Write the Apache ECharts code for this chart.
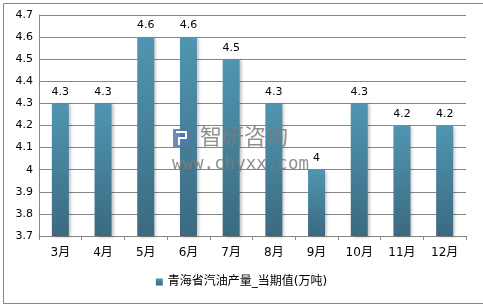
<!DOCTYPE html>
<html><head><meta charset="utf-8">
<script src="https://cdn.jsdelivr.net/npm/echarts@6/dist/echarts.min.js"></script>
<style>html,body{margin:0;padding:0;background:#fff}#c{width:483px;height:304px}</style>
</head><body><div id="c"></div>
<script>
const categories = ['3月','4月','5月','6月','7月','8月','9月','10月','11月','12月'];
const values = [4.3, 4.3, 4.6, 4.6, 4.5, 4.3, 4.0, 4.3, 4.2, 4.2];
const labelTexts = ['4.3','4.3','4.6','4.6','4.5','4.3','4','4.3','4.2','4.2'];
const seriesName = '青海省汽油产量_当期值(万吨)';
const yTicks = [3.7, 3.8, 3.9, 4.0, 4.1, 4.2, 4.3, 4.4, 4.5, 4.6, 4.7];

const chart = echarts.init(document.getElementById('c'), null, {renderer: 'canvas'});
const font = 'DejaVu Sans, Noto Sans CJK SC, sans-serif';
chart.setOption({
  animation: false,
  backgroundColor: '#fff',
  grid: {left: 39, right: 17, top: 15, bottom: 68},
  xAxis: {
    type: 'category', data: categories,
    axisLine: {lineStyle: {color: '#868686', width: 1}},
    axisTick: {show: true, length: 4, lineStyle: {color: '#868686'}},
    axisLabel: {color: '#000', fontSize: 12, fontFamily: font, margin: 11}
  },
  yAxis: {
    type: 'value', min: 3.7, max: 4.7, interval: 0.1,
    axisLine: {show: true, lineStyle: {color: '#868686'}},
    axisTick: {show: false},
    splitLine: {lineStyle: {color: '#868686', width: 1}},
    axisLabel: {color: '#000', fontSize: 11, fontFamily: font, margin: 6,
      formatter: v => { const r = Math.round(v*10)/10; return yTicks.includes(r) ? String(r) : ''; }}
  },
  legend: {
    bottom: 11, left: 'center', itemWidth: 7, itemHeight: 7, itemGap: 4,
    icon: 'rect',
    textStyle: {fontSize: 12, fontFamily: font, color: '#000'},
    data: [seriesName]
  },
  graphic: [
    {type: 'rect', left: 1, top: 1, shape: {width: 480, height: 300},
     style: {fill: 'none', stroke: '#868686', lineWidth: 1}, silent: true, z: 100}
  ],
  series: [{
    name: seriesName, type: 'bar', data: values, barWidth: 17,
    itemStyle: {
      color: new echarts.graphic.LinearGradient(0, 0, 0, 1, [
        {offset: 0, color: '#5095b1'}, {offset: 1, color: '#3b6a80'}
      ]),
      shadowColor: 'rgba(0,0,0,0.25)', shadowBlur: 3, shadowOffsetX: 2, shadowOffsetY: 1
    },
    label: {show: true, position: 'top', distance: 6, color: '#000', fontSize: 11, fontFamily: font,
      formatter: p => labelTexts[p.dataIndex]}
  }]
});
// watermark drawn on top of the bars
const zr = chart.getZr();
const wm = new echarts.graphic.Group({silent: true});
wm.add(new echarts.graphic.Rect({shape: {x: 173, y: 129, width: 17, height: 18}, style: {fill: 'rgba(80,120,170,0.85)'}, z: 1000}));
wm.add(new echarts.graphic.Polyline({shape: {points: [[176,132],[186,132],[186,138],[179,138],[179,145]]}, style: {stroke: '#fff', lineWidth: 2, fill: null}, z: 1001}));
wm.add(new echarts.graphic.Text({x: 200, y: 125, style: {text: '智研咨询', font: '22px Noto Sans CJK SC', fill: 'rgba(125,125,125,0.85)'}, z: 1000}));
wm.add(new echarts.graphic.Text({x: 172, y: 155, style: {text: 'www.chyxx.com', font: '17.5px DejaVu Sans Mono', fill: 'rgba(125,125,125,0.85)'}, z: 1000}));
zr.add(wm);
</script></body></html>
